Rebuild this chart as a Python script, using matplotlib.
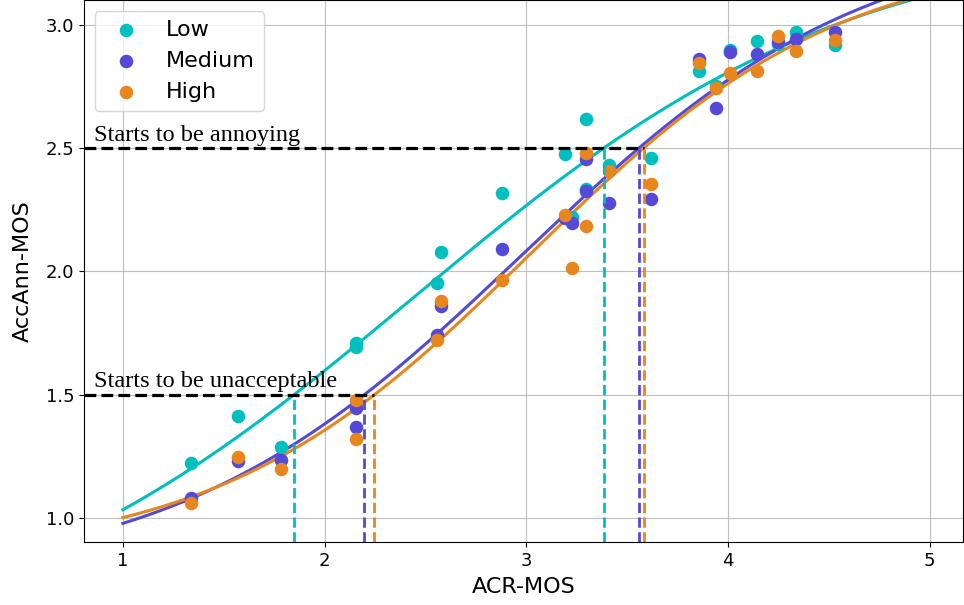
import numpy as np
import matplotlib
matplotlib.use("Agg")
import matplotlib.pyplot as plt

# ACR-MOS per condition (shared by all groups)
acr_mos = [1.337, 1.573, 1.783, 2.158, 2.158, 2.558, 2.576, 2.880, 3.190, 3.227,
           3.298, 3.298, 3.409, 3.620, 3.855, 3.940, 4.009, 4.146, 4.249, 4.339, 4.529]
low = [1.222, 1.415, 1.287, 1.709, 1.695, 1.955, 2.078, 2.318, 2.475, 2.222,
       2.618, 2.333, 2.432, 2.459, 2.811, 2.750, 2.899, 2.935, 2.920, 2.970, 2.919]
medium = [1.080, 1.233, 1.235, 1.445, 1.368, 1.742, 1.860, 2.092, 2.216, 2.198,
          2.456, 2.324, 2.277, 2.293, 2.861, 2.662, 2.889, 2.881, 2.928, 2.942, 2.969]
high = [1.060, 1.246, 1.199, 1.479, 1.320, 1.722, 1.880, 1.966, 2.229, 2.015,
        2.479, 2.185, 2.405, 2.355, 2.845, 2.743, 2.804, 2.813, 2.953, 2.892, 2.937]

labels = ["Low", "Medium", "High"]
colors = ["#00BFBF", "#5549D8", "#E8861E"]
thresholds = [1.5, 2.5]
threshold_texts = ["Starts to be unacceptable", "Starts to be annoying"]


def logistic(p, x):
    lo, hi, c, k = p
    return lo + (hi - lo) / (1.0 + np.exp(-k * (x - c)))


def fit_logistic(x, y, p0):
    p = np.array(p0, float)
    lam = 1e-3
    cost = np.sum((y - logistic(p, x)) ** 2)
    for _ in range(2000):
        r = y - logistic(p, x)
        J = np.empty((len(x), len(p)))
        for j in range(len(p)):
            dp = np.zeros_like(p)
            dp[j] = 1e-6 * max(1.0, abs(p[j]))
            J[:, j] = (logistic(p + dp, x) - logistic(p - dp, x)) / (2 * dp[j])
        A = J.T @ J
        g = J.T @ r
        step = np.linalg.solve(A + lam * np.diag(np.diag(A)), g)
        pn = p + step
        cn = np.sum((y - logistic(pn, x)) ** 2)
        if cn < cost:
            p, cost = pn, cn
            lam = max(lam / 3, 1e-12)
            if np.max(np.abs(step)) < 1e-10:
                break
        else:
            lam *= 3
            if lam > 1e12:
                break
    return p


fig = plt.figure(figsize=(9.64, 6.05), dpi=100)
ax = fig.add_axes([0.087, 0.104, 0.912, 0.896])

x = np.array(acr_mos)
xs = np.linspace(1, 5, 400)
crossings = {t: [] for t in thresholds}
for lab, ys, col in zip(labels, [low, medium, high], colors):
    ax.scatter(x, ys, s=95, color=col, label=lab, zorder=3, linewidths=0)
    p = fit_logistic(x, np.array(ys), [0.9, 3.2, 2.8, 1.5])
    fit = logistic(p, xs)
    ax.plot(xs, fit, color=col, lw=2.2, zorder=2)
    for t in thresholds:
        idx = np.where(np.diff(np.sign(fit - t)) != 0)[0][0]
        xc = xs[idx] + (t - fit[idx]) * (xs[idx + 1] - xs[idx]) / (fit[idx + 1] - fit[idx])
        crossings[t].append((xc, col))

xmin, xmax = 0.807, 5.165
ymin, ymax = 0.903, 3.10
ax.set_xlim(xmin, xmax)
ax.set_ylim(ymin, ymax)

for t, txt in zip(thresholds, threshold_texts):
    xr = max(c[0] for c in crossings[t])
    ax.plot([xmin, xr], [t, t], color="black", ls="--", lw=2.3, zorder=4)
    for xc, col in crossings[t]:
        ax.plot([xc, xc], [ymin, t], color=col, ls="--", lw=2.0, zorder=4)
    ax.text(0.855, t + 0.03, txt, family="Liberation Serif", fontsize=17.5,
            ha="left", va="baseline", zorder=5)

ax.set_xticks([1, 2, 3, 4, 5])
ax.set_yticks([1.0, 1.5, 2.0, 2.5, 3.0])
ax.tick_params(labelsize=13)
ax.grid(True, color="#b0b0b0", lw=0.8, alpha=0.8, zorder=0)
ax.set_axisbelow(True)
ax.set_xlabel("ACR-MOS", fontsize=16, labelpad=5)
ax.set_ylabel("AccAnn-MOS", fontsize=16, labelpad=9)
ax.legend(loc="upper left", fontsize=16)

fig.savefig("out.png", dpi=100)
